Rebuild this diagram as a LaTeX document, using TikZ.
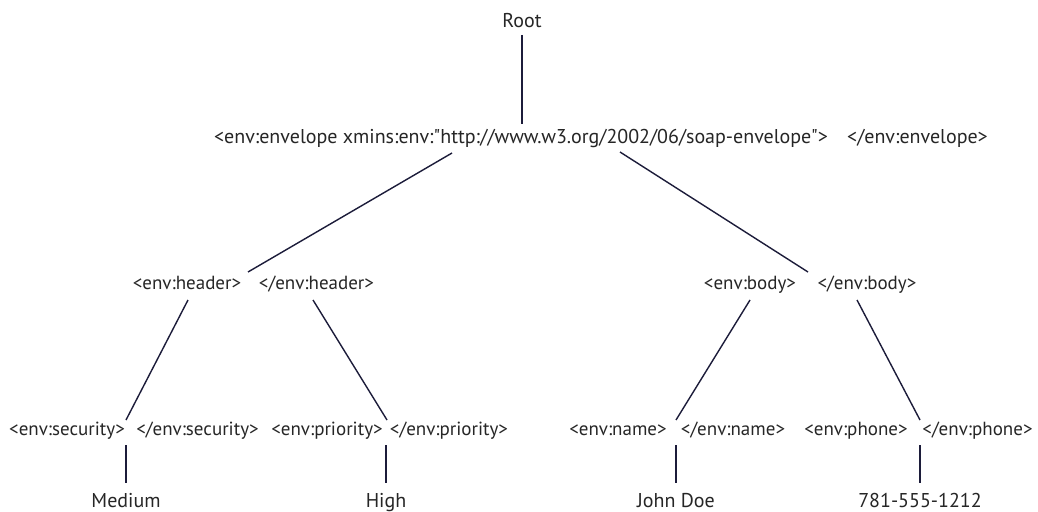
\documentclass[tikz,border=0pt]{standalone}
\usepackage{fontspec}
\setmainfont{PT Sans}[Ligatures=TeXOff]
\begin{document}
\begin{tikzpicture}[x=1pt,y=-1pt,
  tag/.style={anchor=base,inner sep=0pt,text=black!85,font=\fontsize{20}{22}\selectfont},
  small/.style={tag,font=\fontsize{19}{21}\selectfont},
  edge/.style={draw={rgb,255:red,28;green,28;blue,58},line width=1.4pt}]
\useasboundingbox[fill=white] (0,0) rectangle (1038,511);

% tree labels
\node[tag] (root) at (522,28) {Root};
\node[tag] (envopen) at (521,143) {<env:envelope xmins:env:"http://www.w3.org/2002/06/soap-envelope">};
\node[tag] (envclose) at (917.5,143) {</env:envelope>};

\node[small] (hdropen) at (187,289) {<env:header>};
\node[small] (hdrclose) at (316.5,289) {</env:header>};
\node[small] (bodyopen) at (750,289) {<env:body>};
\node[small] (bodyclose) at (867,289) {</env:body>};

\node[small] (secopen) at (67,435) {<env:security>};
\node[small] (secclose) at (197.5,435) {</env:security>};
\node[small] (priopen) at (327,435) {<env:priority>};
\node[small] (priclose) at (449,435) {</env:priority>};
\node[small] (nameopen) at (618,435) {<env:name>};
\node[small] (nameclose) at (733,435) {</env:name>};
\node[small] (phoneopen) at (856,435) {<env:phone>};
\node[small] (phoneclose) at (977.5,435) {</env:phone>};

\node[tag] (medium) at (126,507) {Medium};
\node[tag] (high) at (386,507) {High};
\node[tag] (john) at (676,507) {John Doe};
\node[tag] (phone) at (920,507) {781-555-1212};

% connector end points
\coordinate (rootB) at (522,35);
\coordinate (envT) at (522,124);
\coordinate (envL) at (452,153);
\coordinate (envR) at (620,152);
\coordinate (hdrT) at (248,272);
\coordinate (bodyT) at (808,272);
\coordinate (hdrL) at (188,300);
\coordinate (hdrR) at (313,300);
\coordinate (bodyL) at (750,300);
\coordinate (bodyR) at (857,300);
\coordinate (secT) at (126,420);
\coordinate (priT) at (387,420);
\coordinate (nameT) at (676,420);
\coordinate (phoneT) at (920,420);
\coordinate (secB) at (126,445);
\coordinate (priB) at (386,445);
\coordinate (nameB) at (676,445);
\coordinate (phoneB) at (920,445);
\coordinate (medT) at (126,483);
\coordinate (highT) at (386,483);
\coordinate (johnT) at (676,483);
\coordinate (numT) at (920,483);

% connectors
\draw[edge] (rootB) -- (envT);
\draw[edge] (envL) -- (hdrT);
\draw[edge] (envR) -- (bodyT);
\draw[edge] (hdrL) -- (secT);
\draw[edge] (hdrR) -- (priT);
\draw[edge] (bodyL) -- (nameT);
\draw[edge] (bodyR) -- (phoneT);
\draw[edge] (secB) -- (medT);
\draw[edge] (priB) -- (highT);
\draw[edge] (nameB) -- (johnT);
\draw[edge] (phoneB) -- (numT);
\end{tikzpicture}
\end{document}
